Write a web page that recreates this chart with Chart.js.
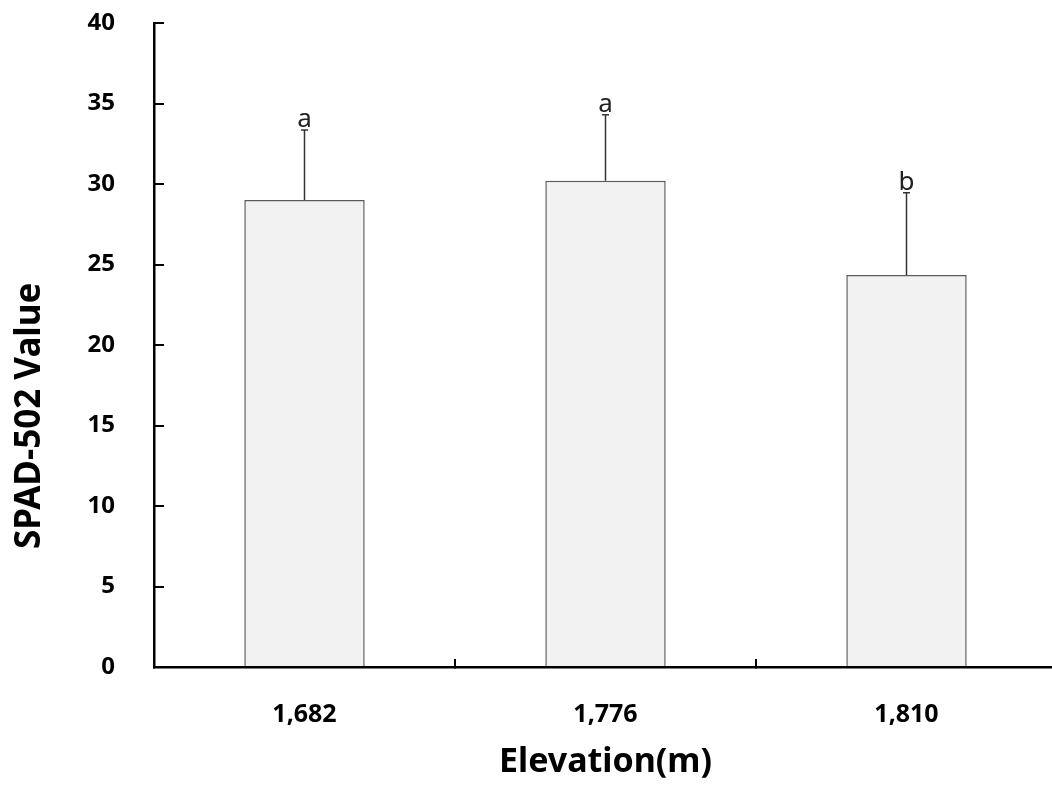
<!DOCTYPE html>
<html lang="en">
<head>
    <meta charset="UTF-8">
    <title>SPAD-502 Value by Elevation</title>
    <script src="https://cdn.jsdelivr.net/npm/chart.js"></script>
    <style>
        html, body { margin: 0; padding: 0; background: #fff; overflow: hidden; }
        #wrap { width: 1060px; height: 785px; }
    </style>
</head>
<body>
    <div id="wrap">
        <canvas id="spadChart" width="1060" height="785"></canvas>
    </div>
    <script>
        const elevations = ['1,682', '1,776', '1,810'];
        const spadMeans = [29.0, 30.2, 24.35];
        const spadErrors = [4.35, 4.1, 5.1];
        const groupLetters = ['a', 'a', 'b'];
        const yTicks = [0, 5, 10, 15, 20, 25, 30, 35, 40];

        const FONT = '"Noto Sans", "DejaVu Sans", sans-serif';

        // error bars + significance letters on top of each bar
        const errorBarPlugin = {
            id: 'errorBars',
            afterDatasetsDraw(chart) {
                const ctx = chart.ctx;
                const yScale = chart.scales.y;
                const meta = chart.getDatasetMeta(0);
                ctx.save();
                meta.data.forEach((bar, i) => {
                    const x = bar.x;
                    const yBase = yScale.getPixelForValue(spadMeans[i]);
                    const yTop = yScale.getPixelForValue(spadMeans[i] + spadErrors[i]);
                    ctx.strokeStyle = '#333333';
                    ctx.lineWidth = 1.5;
                    ctx.beginPath();
                    ctx.moveTo(x, yBase);
                    ctx.lineTo(x, yTop);
                    ctx.moveTo(x - 3.5, yTop);
                    ctx.lineTo(x + 3.5, yTop);
                    ctx.stroke();

                    ctx.fillStyle = '#222222';
                    ctx.font = '26px ' + FONT;
                    ctx.textAlign = 'center';
                    ctx.textBaseline = 'alphabetic';
                    ctx.fillText(groupLetters[i], x, yTop - 3);
                });
                ctx.restore();
            }
        };

        // y axis title, placed a bit below the middle as in the original
        const yTitlePlugin = {
            id: 'yTitle',
            afterDraw(chart) {
                const ctx = chart.ctx;
                const area = chart.chartArea;
                ctx.save();
                ctx.translate(area.left - 124, area.top + (area.bottom - area.top) * 0.61);
                ctx.rotate(-Math.PI / 2);
                ctx.font = 'bold 35px ' + FONT;
                ctx.fillStyle = '#000';
                ctx.textAlign = 'center';
                ctx.textBaseline = 'middle';
                ctx.fillText('SPAD-502 Value', 0, 0);
                ctx.restore();
            }
        };

        const ctx = document.getElementById('spadChart').getContext('2d');
        new Chart(ctx, {
            type: 'bar',
            data: {
                labels: elevations,
                datasets: [{
                    data: spadMeans,
                    backgroundColor: '#f2f2f2',
                    borderColor: '#5a5a5a',
                    borderWidth: 1.5,
                    barPercentage: 0.8,
                    categoryPercentage: 0.5
                }]
            },
            options: {
                responsive: false,
                animation: false,
                events: [],
                layout: { padding: { top: 23, right: 3, left: 0, bottom: 0 } },
                plugins: {
                    legend: { display: false },
                    tooltip: { enabled: false }
                },
                scales: {
                    x: {
                        offset: true,
                        afterFit(scale) { scale.height = 118; },
                        border: { display: true, color: '#000', width: 2.5 },
                        grid: {
                            offset: true,
                            drawOnChartArea: false,
                            drawTicks: true,
                            tickLength: -8,
                            color: '#000',
                            lineWidth: 2
                        },
                        ticks: {
                            color: '#000',
                            padding: 41,
                            maxRotation: 0,
                            font: { family: FONT, size: 25, weight: 'bold' }
                        },
                        title: {
                            display: true,
                            text: 'Elevation(m)',
                            color: '#000',
                            padding: { top: 0, bottom: 2 },
                            font: { family: FONT, size: 34, weight: 'bold' }
                        }
                    },
                    y: {
                        min: 0,
                        max: 40,
                        afterFit(scale) {
                            scale.width = 154;
                            // tick padding is horizontal here, don't let it push the plot down
                            scale.paddingTop = 0;
                            scale.paddingBottom = 0;
                        },
                        afterBuildTicks(scale) {
                            scale.ticks = yTicks.map(v => ({ value: v }));
                        },
                        border: { display: true, color: '#000', width: 2.5 },
                        grid: {
                            drawOnChartArea: false,
                            drawTicks: true,
                            tickLength: -10,
                            color: '#000',
                            lineWidth: 2
                        },
                        ticks: {
                            color: '#000',
                            padding: 49,
                            font: { family: FONT, size: 24, weight: 'bold' }
                        },
                        title: { display: false }
                    }
                }
            },
            plugins: [errorBarPlugin, yTitlePlugin]
        });
    </script>
</body>
</html>
